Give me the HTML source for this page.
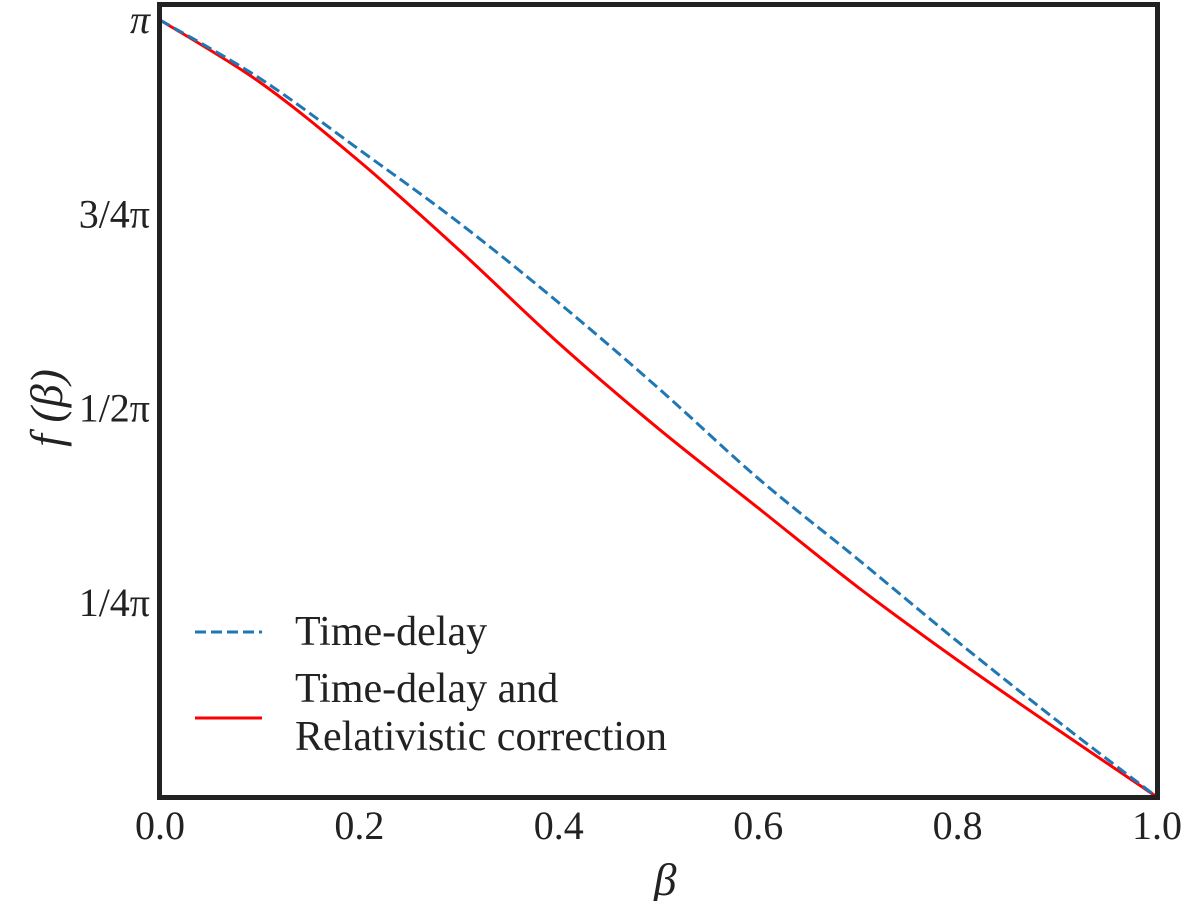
<!DOCTYPE html>
<html><head><meta charset="utf-8"><style>
body{margin:0;background:#fff}
svg text{font-family:"Liberation Serif",serif;fill:#222}
</style></head><body>
<svg id="c" width="1200" height="901">
<g id="plot"></g>
<rect x="159.5" y="4.5" width="998" height="793" fill="none" stroke="#222" stroke-width="5"/>
<g id="ticks"></g>
<text x="665" y="895" font-size="46" font-style="italic" text-anchor="middle">β</text>
<text transform="translate(62,408) rotate(-90)" font-size="46" font-style="italic" text-anchor="middle">f (β)</text>
<g>
<line x1="195" y1="632" x2="262" y2="632" stroke="#1f77b4" stroke-width="3" stroke-dasharray="11,5"/>
<text x="295" y="645" font-size="42">Time-delay</text>
<line x1="195" y1="718" x2="262" y2="718" stroke="#ff0000" stroke-width="3"/>
<text x="295" y="702" font-size="42">Time-delay and</text>
<text x="295" y="750" font-size="42">Relativistic correction</text>
</g>
</svg>
<script>
const betas=[0,0.1,0.2,0.3,0.4,0.5,0.6,0.7,0.8,0.9,1.0];
const timeDelay=[1,0.925,0.833,0.739,0.636,0.526,0.410,0.306,0.200,0.098,0];
const relativistic=[1,0.920,0.818,0.704,0.584,0.474,0.372,0.270,0.176,0.087,0];
const xTicks=[0,0.2,0.4,0.6,0.8,1.0];
const xTickLabels=["0.0","0.2","0.4","0.6","0.8","1.0"];
const yTicks=[0.25,0.5,0.75,1];
const yTickLabels=["1/4π","1/2π","3/4π","π"];
const X=v=>160+v*997, Y=v=>797-v*777;
const ns="http://www.w3.org/2000/svg";
function path(xs,ys){
  const p=xs.map((x,i)=>[X(x),Y(ys[i])]);
  let d=`M${p[0][0]},${p[0][1]}`;
  for(let i=0;i<p.length-1;i++){
    const p0=p[Math.max(0,i-1)],p1=p[i],p2=p[i+1],p3=p[Math.min(p.length-1,i+2)];
    const c1=[p1[0]+(p2[0]-p0[0])/6,p1[1]+(p2[1]-p0[1])/6];
    const c2=[p2[0]-(p3[0]-p1[0])/6,p2[1]-(p3[1]-p1[1])/6];
    d+=` C${c1[0]},${c1[1]} ${c2[0]},${c2[1]} ${p2[0]},${p2[1]}`;
  }
  return d;
}
const plot=document.getElementById('plot');
const r=document.createElementNS(ns,'path');
r.setAttribute('d',path(betas,relativistic));
r.setAttribute('fill','none');r.setAttribute('stroke','#ff0000');r.setAttribute('stroke-width','3');


plot.appendChild(r);
const b=document.createElementNS(ns,'path');
b.setAttribute('d',path(betas,timeDelay));
b.setAttribute('fill','none');b.setAttribute('stroke','#1f77b4');b.setAttribute('stroke-width','3');b.setAttribute('stroke-dasharray','11,5');


plot.appendChild(b);
const ticks=document.getElementById('ticks');
xTicks.forEach((v,i)=>{
  const t=document.createElementNS(ns,'text');
  t.setAttribute('x',X(v));t.setAttribute('y',839);t.setAttribute('font-size','40');t.setAttribute('text-anchor','middle');
  t.textContent=xTickLabels[i];
  
  
  ticks.appendChild(t);
});
yTicks.forEach((v,i)=>{
  const t=document.createElementNS(ns,'text');
  t.setAttribute('x',150);t.setAttribute('y',Y(v)+13);t.setAttribute('font-size','40');t.setAttribute('text-anchor','end');
  t.setAttribute('font-style',i==3?'italic':'normal');
  t.textContent=yTickLabels[i];
  
  
  ticks.appendChild(t);
});
</script>
</body></html>
